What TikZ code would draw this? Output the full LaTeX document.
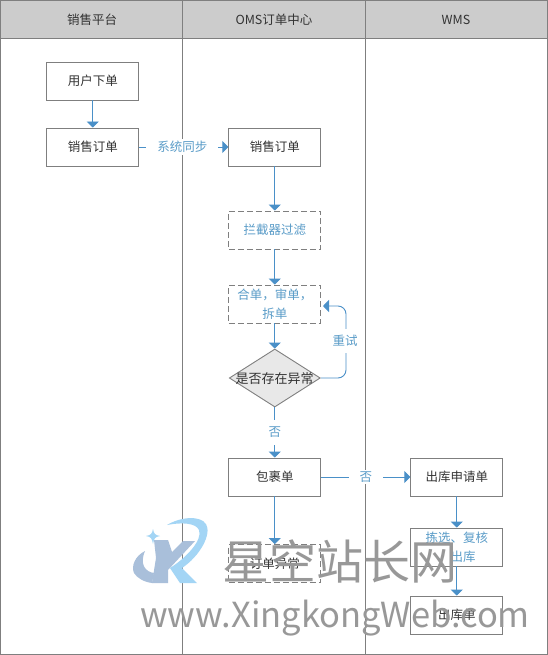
\documentclass[tikz,border=0pt]{standalone}
\usepackage{fontspec}
\setmainfont{Noto Sans CJK SC}
\usetikzlibrary{shapes.geometric,arrows.meta}
\definecolor{lane}{HTML}{7F7F7F}
\definecolor{head}{HTML}{CCCCCC}
\definecolor{flow}{HTML}{4A90C8}
\definecolor{lbl}{HTML}{5A9CC8}
\definecolor{ink}{HTML}{333333}
\definecolor{wm}{HTML}{989898}
\definecolor{logoA}{HTML}{A3D5F5}
\definecolor{logoB}{HTML}{A9BFDA}
\tikzset{
  every node/.style={font=\fontsize{12.5}{19}\selectfont,text=ink,align=center},
  lanehead/.style={draw=none,inner sep=0pt},
  taskbox/.style={draw=lane,line width=.9pt,fill=white,minimum width=92pt,minimum height=38pt,inner sep=0pt},
  dashbox/.style={taskbox,dashed,dash pattern=on 6pt off 3pt,text=lbl},
  blueBox/.style={taskbox,text=lbl},
  decision/.style={diamond,aspect=1.57,draw=lane,line width=.9pt,fill=black!9,minimum width=91pt,minimum height=58pt,inner sep=0pt},
  flowline/.style={draw=flow,line width=.9pt,-{Triangle[width=12pt,length=6pt,fill=flow]}},
  edgelabel/.style={fill=white,text=lbl,inner sep=0pt},
  markword/.style={text=wm,inner sep=0pt}
}
\begin{document}
\begin{tikzpicture}[x=1pt,y=-1pt]
\useasboundingbox (0,0) rectangle (548,655);
\fill[white] (0,0) rectangle (548,655);
\fill[head] (0,0) rectangle (548,38.5);
\draw[lane,line width=.9pt] (.5,.5) rectangle (547.5,654.5);
\draw[lane,line width=.9pt] (0,38.5) -- (548,38.5);
\draw[lane,line width=.9pt] (182.5,0) -- (182.5,655);
\draw[lane,line width=.9pt] (365.5,0) -- (365.5,655);
\node[lanehead] (h1) at (92,20) {销售平台};
\node[lanehead] (h2) at (274,20) {OMS订单中心};
\node[lanehead] (h3) at (456,20) {WMS};

\node[taskbox] (order) at (92.8,81) {用户下单};
\node[taskbox] (sale) at (92.8,147) {销售订单};
\node[taskbox] (oms) at (274.8,147) {销售订单};
\node[dashbox] (filter) at (274.8,230) {拦截器过滤};
\node[dashbox] (merge) at (274.8,304) {合单，审单，\\拆单};
\node[decision] (check) at (274.8,378) {};
\node[lanehead,font=\fontsize{13}{17}\selectfont] (checkt) at (274.5,378.5) {是否存在异常};
\node[taskbox] (pack) at (274.8,477) {包裹单};
\node[taskbox] (apply) at (456.8,477) {出库申请单};
\node[dashbox,text=ink] (abn) at (274.8,563.5) {订单异常};
\node[blueBox] (pick) at (456.8,547) {拣选、复核\\、出库};
\node[taskbox] (out) at (456.8,615) {出库单};

\draw[flowline] (order) -- (sale);
\draw[flowline] (sale) -- node[edgelabel,pos=.485,inner xsep=11pt,inner ysep=2pt] {系统同步} (oms);
\draw[flowline] (oms) -- (filter);
\draw[flowline] (filter) -- (merge);
\draw[flowline] (merge) -- (check);
\draw[flowline] (check) -- node[edgelabel,pos=.5,inner ysep=7pt,inner xsep=2pt] {否} (pack);
\draw[flowline] (pack) -- node[edgelabel,pos=.5,inner xsep=10.5pt,inner ysep=2pt] {否} (apply);
\draw[flowline] (pack) -- (abn);
\draw[flowline] (apply) -- (pick);
\draw[flowline] (pick) -- (out);
\coordinate (retryin) at (323,306);
\draw[flowline,rounded corners=8pt] (check.east) -| (346,306) -- (retryin);
\node[edgelabel,inner xsep=2pt,inner ysep=6pt] (retry) at (345,341) {重试};

% site watermark printed over the diagram
\fill[logoB] (145,551) .. controls (135,556) and (131,566) .. (134,573) .. controls (137,578) and (144,582) .. (152,583) -- (154,573) .. controls (146,572) and (139,565) .. (145,551) -- cycle;
\fill[logoB] (154,540) -- (168,540) -- (172,552) -- (183,541) -- (195,541) -- (168,570) -- (168,583) -- (152,583) -- (156,558) -- cycle;
\fill[logoA] (167,525) .. controls (180,517) and (200,515) .. (206,524) .. controls (212,534) and (200,556) .. (182,568) -- (197,583) -- (180,583) -- (170,568) .. controls (186,558) and (203,540) .. (199,530) .. controls (196,523) and (182,522) .. (167,525) -- cycle;
\fill[logoA] (153,529) .. controls (154,534) and (155,535) .. (160,536) .. controls (155,537) and (154,538) .. (153,544) .. controls (152,538) and (151,537) .. (146,536) .. controls (151,535) and (152,534) .. (153,529) -- cycle;
\node[markword,font=\fontsize{47}{50}\selectfont] (mark1) at (340,561) {星空站长网};
\node[markword,font=\fontsize{34.5}{38}\selectfont] (mark2) at (335,618) {www.XingkongWeb.com};
\end{tikzpicture}
\end{document}
